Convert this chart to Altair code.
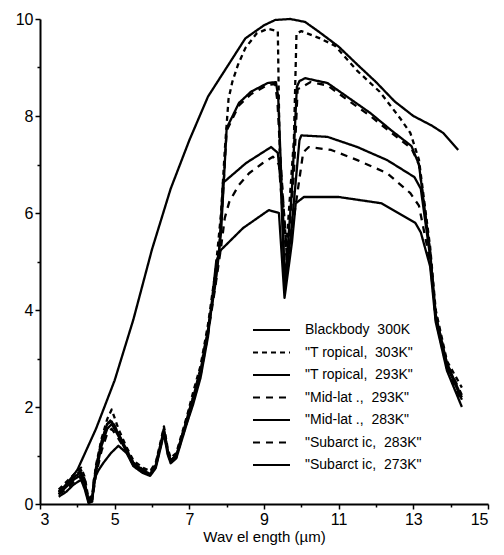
import altair as alt
import pandas as pd

NB = "\u00a0"
names = [
    "Blackbody" + NB + " 300K",
    "\"T ropical," + NB + " 303K\"",
    "\"T ropical," + NB + " 293K\"",
    "\"Mid-lat .," + NB + " 293K\"",
    "\"Mid-lat .," + NB + " 283K\"",
    "\"Subarct ic," + NB + " 283K\"",
    "\"Subarct ic," + NB + " 273K\"",
]

bb_x = [3.5, 4.0, 4.5, 5.0, 5.5, 6.0, 6.5, 7.0, 7.5, 8.0, 8.5, 9.0, 9.3, 9.7, 10.1, 10.5, 11.0, 11.5, 12.0, 12.5, 13.0, 13.5, 13.8, 14.2]
bb_y = [0.2, 0.7, 1.55, 2.55, 3.8, 5.25, 6.5, 7.5, 8.4, 9.0, 9.6, 9.87, 9.98, 10.0, 9.94, 9.72, 9.43, 9.06, 8.7, 8.3, 8.0, 7.8, 7.65, 7.3]

t303_x = [3.5, 3.7, 3.9, 4.1, 4.2, 4.3, 4.4, 4.5, 4.65, 4.8, 4.92, 5.1, 5.3, 5.5, 5.75, 5.95, 6.1, 6.25, 6.32, 6.42, 6.5, 6.65, 6.8, 6.95, 7.1, 7.3, 7.5, 7.7, 7.85, 7.95, 8.05, 8.15, 8.3, 8.5, 8.8, 9.1, 9.37, 9.42, 9.6, 9.8, 9.87, 10.0, 10.5, 10.9, 11.5, 12.1, 12.65, 12.92, 13.15, 13.45, 13.6, 13.9, 14.3]
t303_y = [0.3, 0.45, 0.6, 0.75, 0.55, 0.1, 0.2, 0.8, 1.35, 1.75, 1.95, 1.55, 1.2, 0.9, 0.75, 0.68, 0.85, 1.35, 1.6, 1.15, 0.95, 1.05, 1.45, 1.85, 2.3, 2.85, 3.7, 4.8, 6.0, 7.3, 8.35, 8.7, 9.05, 9.4, 9.7, 9.8, 9.75, 7.2, 5.3, 7.5, 9.7, 9.75, 9.6, 9.45, 8.93, 8.5, 7.95, 7.65, 7.1, 5.3, 4.0, 2.95, 2.4]

t293_x = [3.5, 3.7, 3.9, 4.1, 4.2, 4.3, 4.4, 4.5, 4.65, 4.8, 4.92, 5.1, 5.3, 5.5, 5.75, 5.95, 6.1, 6.25, 6.32, 6.42, 6.5, 6.65, 6.8, 6.95, 7.1, 7.3, 7.5, 7.7, 7.85, 8.0, 8.33, 8.65, 9.1, 9.32, 9.38, 9.45, 9.56, 9.75, 9.88, 9.95, 10.1, 10.7, 11.24, 11.85, 12.4, 12.95, 13.15, 13.45, 13.6, 13.9, 14.3]
t293_y = [0.25, 0.4, 0.55, 0.65, 0.45, 0.05, 0.15, 0.75, 1.3, 1.65, 1.7, 1.45, 1.15, 0.85, 0.7, 0.62, 0.8, 1.3, 1.55, 1.1, 0.9, 1.0, 1.4, 1.8, 2.2, 2.75, 3.6, 4.6, 5.6, 7.75, 8.27, 8.5, 8.68, 8.7, 8.4, 7.0, 4.5, 6.5, 8.6, 8.72, 8.78, 8.68, 8.39, 8.06, 7.71, 7.38, 7.0, 5.2, 3.9, 2.9, 2.2]

m293_x = [3.5, 3.7, 3.9, 4.1, 4.2, 4.3, 4.4, 4.5, 4.65, 4.8, 4.92, 5.1, 5.3, 5.5, 5.75, 5.95, 6.1, 6.25, 6.32, 6.42, 6.5, 6.65, 6.8, 6.95, 7.1, 7.3, 7.5, 7.7, 7.85, 8.0, 8.33, 8.65, 9.1, 9.3, 9.36, 9.45, 9.62, 9.8, 9.9, 10.25, 10.7, 11.24, 11.85, 12.4, 12.95, 13.15, 13.45, 13.6, 13.9, 14.3]
m293_y = [0.25, 0.4, 0.55, 0.7, 0.5, 0.05, 0.15, 0.75, 1.3, 1.65, 1.75, 1.45, 1.15, 0.85, 0.72, 0.64, 0.82, 1.3, 1.55, 1.1, 0.9, 1.0, 1.4, 1.8, 2.2, 2.8, 3.6, 4.6, 5.7, 7.7, 8.22, 8.45, 8.64, 8.66, 8.3, 7.0, 5.0, 6.8, 8.55, 8.7, 8.63, 8.33, 8.0, 7.66, 7.33, 7.0, 5.2, 3.9, 2.9, 2.25]

m283_x = [3.5, 3.7, 3.9, 4.1, 4.2, 4.3, 4.4, 4.5, 4.65, 4.8, 4.92, 5.1, 5.3, 5.5, 5.75, 5.95, 6.1, 6.25, 6.32, 6.42, 6.5, 6.65, 6.8, 6.95, 7.1, 7.3, 7.5, 7.7, 7.8, 7.9, 8.52, 9.19, 9.37, 9.45, 9.56, 9.75, 9.95, 10.0, 10.7, 11.5, 12.3, 13.03, 13.2, 13.45, 13.6, 13.9, 14.3]
m283_y = [0.2, 0.35, 0.5, 0.6, 0.4, 0.05, 0.1, 0.65, 1.2, 1.55, 1.65, 1.4, 1.1, 0.82, 0.68, 0.6, 0.78, 1.28, 1.5, 1.08, 0.88, 0.98, 1.38, 1.75, 2.15, 2.7, 3.55, 4.55, 5.2, 6.62, 7.03, 7.36, 7.24, 6.6, 4.4, 5.8, 7.5, 7.6, 7.57, 7.36, 7.09, 6.74, 6.5, 5.1, 3.85, 2.85, 2.15]

s283_x = [3.5, 3.7, 3.9, 4.1, 4.2, 4.3, 4.4, 4.5, 4.65, 4.8, 4.92, 5.1, 5.3, 5.5, 5.75, 5.95, 6.1, 6.25, 6.32, 6.42, 6.5, 6.65, 6.8, 6.95, 7.1, 7.3, 7.5, 7.7, 7.85, 7.95, 8.07, 8.33, 8.6, 8.97, 9.24, 9.4, 9.46, 9.62, 9.8, 10.05, 10.2, 10.8, 11.5, 12.3, 12.92, 13.15, 13.45, 13.6, 13.9, 14.3]
s283_y = [0.2, 0.3, 0.45, 0.55, 0.35, 0.05, 0.1, 0.6, 1.1, 1.45, 1.55, 1.35, 1.1, 0.8, 0.66, 0.6, 0.76, 1.25, 1.48, 1.05, 0.86, 0.96, 1.35, 1.72, 2.1, 2.65, 3.5, 4.5, 5.3, 5.9, 6.23, 6.58, 6.82, 7.03, 7.16, 7.0, 6.4, 4.9, 5.9, 7.25, 7.36, 7.3, 7.09, 6.82, 6.41, 6.15, 5.0, 3.8, 2.8, 2.1]

s273_x = [3.5, 3.7, 3.9, 4.1, 4.2, 4.3, 4.4, 4.44, 4.57, 4.7, 4.9, 5.1, 5.32, 5.5, 5.75, 5.95, 6.1, 6.25, 6.32, 6.42, 6.5, 6.65, 6.8, 6.95, 7.1, 7.3, 7.5, 7.72, 7.85, 8.44, 9.13, 9.4, 9.55, 9.75, 9.85, 10.07, 11.0, 12.15, 13.05, 13.2, 13.45, 13.6, 13.9, 14.3]
s273_y = [0.15, 0.25, 0.4, 0.5, 0.3, 0.02, 0.05, 0.5, 0.7, 0.85, 1.05, 1.2, 1.05, 0.78, 0.64, 0.58, 0.74, 1.22, 1.45, 1.02, 0.84, 0.94, 1.32, 1.7, 2.05, 2.6, 3.45, 5.0, 5.24, 5.69, 6.06, 6.0, 4.25, 5.4, 6.2, 6.33, 6.33, 6.2, 5.8, 5.6, 4.9, 3.75, 2.75, 2.0]

x_ticks = [3, 4, 5, 6, 7, 8, 9, 10, 11, 12, 13, 14, 15]
y_ticks = [0, 1, 2, 3, 4, 5, 6, 7, 8, 9, 10]

series = [
    (names[0], bb_x, bb_y),
    (names[1], t303_x, t303_y),
    (names[2], t293_x, t293_y),
    (names[3], m293_x, m293_y),
    (names[4], m283_x, m283_y),
    (names[5], s283_x, s283_y),
    (names[6], s273_x, s273_y),
]

rows = []
for name, xs, ys in series:
    for i, (xv, yv) in enumerate(zip(xs, ys)):
        rows.append({"series": name, "x": xv, "y": yv, "i": i})
df = pd.DataFrame(rows)

dashes = [[1, 0], [5, 4], [1, 0], [7, 6], [1, 0], [7, 6], [1, 0]]
FONT = "Liberation Sans"

chart = alt.Chart(df).mark_line(color="black", strokeWidth=2.3, strokeJoin="round").encode(
    x=alt.X(
        "x:Q",
        scale=alt.Scale(domain=[3, 15], nice=False, zero=False),
        axis=alt.Axis(
            values=x_ticks,
            labelExpr="datum.value % 2 == 1 ? datum.label : ''",
            tickSize={"condition": {"test": "datum.value % 2 == 0", "value": 3}, "value": 5},
            title="Wav el ength (µm)",
            grid=False,
        ),
    ),
    y=alt.Y(
        "y:Q",
        scale=alt.Scale(domain=[0, 10], nice=False),
        axis=alt.Axis(
            values=y_ticks,
            labelExpr="datum.value % 2 == 0 ? datum.label : ''",
            tickSize={"condition": {"test": "datum.value % 2 == 1", "value": 3}, "value": 5},
            title=None,
            grid=False,
        ),
    ),
    strokeDash=alt.StrokeDash(
        "series:N",
        sort=names,
        scale=alt.Scale(domain=names, range=dashes),
        legend=alt.Legend(
            title=None,
            orient="none",
            legendX=212,
            legendY=303,
            symbolType="stroke",
            symbolSize=1369,
            symbolStrokeWidth=2,
            symbolStrokeColor="black",
            clipHeight=16,
            rowPadding=6.5,
            labelOffset=14,
            labelFont=FONT,
            labelFontSize=14,
            labelColor="black",
            padding=0,
        ),
    ),
    detail="series:N",
    order=alt.Order("i:Q"),
).properties(
    width=448,
    height=485,
    autosize=alt.AutoSizeParams(type="none"),
    padding={"left": 32, "top": 11, "right": 8, "bottom": 45},
).configure_view(
    stroke=None
).configure_axis(
    domainColor="black",
    domainWidth=2,
    tickColor="black",
    tickWidth=1.5,
    labelFont=FONT,
    labelFontSize=16,
    labelColor="black",
    labelPadding=2,
    titleFont=FONT,
    titleFontSize=15,
    titleFontWeight="normal",
    titleColor="black",
    titlePadding=2,
)

chart.save("out.html", embed_options={"renderer": "svg", "actions": False})
